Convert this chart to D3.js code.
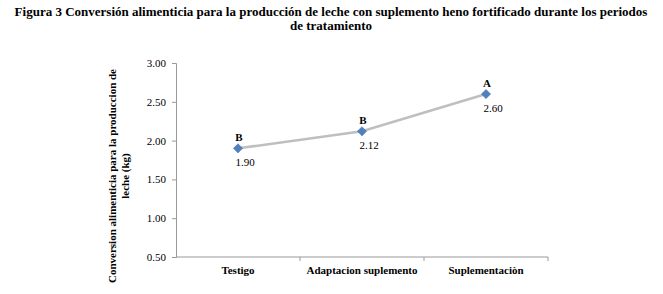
<!DOCTYPE html>
<html>
<head>
<meta charset="utf-8">
<script src="https://cdn.jsdelivr.net/npm/d3@7"></script>
<style>
  body { margin: 0; background: #fff; }
  svg text { font-family: "Liberation Serif", "Times New Roman", serif !important; }
</style>
</head>
<body>
<div id="chart"></div>
<script>
// Data
const categories = ["Testigo", "Adaptacion suplemento", "Suplementaciòn"];
const values = [1.90, 2.12, 2.60];
const letters = ["B", "B", "A"];
const yTicks = [0.50, 1.00, 1.50, 2.00, 2.50, 3.00];

const W = 663, H = 294;
const margin = { top: 63, right: 115, bottom: 37, left: 176 };
const width = W - margin.left - margin.right;
const height = H - margin.top - margin.bottom;

const root = d3.select("#chart").append("svg")
  .attr("width", W).attr("height", H);

// Title
root.append("text")
  .attr("x", 331).attr("y", 16)
  .attr("text-anchor", "middle")
  .style("font-weight", "bold").style("font-size", "13px")
  .text("Figura 3 Conversión alimenticia para la producción de leche con suplemento heno fortificado durante los periodos");
root.append("text")
  .attr("x", 331).attr("y", 30)
  .attr("text-anchor", "middle")
  .style("font-weight", "bold").style("font-size", "13px")
  .text("de tratamiento");

const svg = root.append("g")
  .attr("transform", `translate(${margin.left},${margin.top})`);

const x = d3.scaleBand().domain(categories).range([0, width]);
const y = d3.scaleLinear().domain([0.5, 3.0]).range([height, 0]);

// Y axis
const yAxis = svg.append("g")
  .call(d3.axisLeft(y).tickValues(yTicks).tickFormat(d3.format(".2f")).tickSize(4));
yAxis.select(".domain").attr("stroke", "#999");
yAxis.selectAll(".tick line").attr("stroke", "#999");
yAxis.selectAll("text")
  .attr("x", -10)
  .style("font-size", "11px").attr("fill", "#000");

// X axis: ticks at category boundaries
const xAxis = svg.append("g")
  .attr("transform", `translate(0,${height})`);
xAxis.append("line")
  .attr("x1", 0).attr("x2", width)
  .attr("stroke", "#999");
xAxis.selectAll(".bt")
  .data(categories.slice(1))
  .join("line")
  .attr("x1", d => x(d)).attr("x2", d => x(d))
  .attr("y1", 0).attr("y2", 4)
  .attr("stroke", "#999");
xAxis.append("line")
  .attr("x1", width).attr("x2", width)
  .attr("y1", 0).attr("y2", 4)
  .attr("stroke", "#999");
xAxis.selectAll(".cat")
  .data(categories)
  .join("text")
  .attr("x", d => x(d) + x.bandwidth() / 2)
  .attr("y", 17)
  .attr("text-anchor", "middle")
  .style("font-weight", "bold").style("font-size", "11px")
  .text(d => d);

// Y axis title
const yt = svg.append("text")
  .attr("transform", `translate(-60,${height / 2 + 16}) rotate(-90)`)
  .attr("text-anchor", "middle")
  .style("font-weight", "bold").style("font-size", "11px");
yt.append("tspan").attr("x", 0).attr("dy", 0)
  .text("Conversion alimenticia  para la produccion de");
yt.append("tspan").attr("x", 0).attr("dy", 13)
  .text("leche  (kg)");

// Line
const cx = (d, i) => x(categories[i]) + x.bandwidth() / 2;
svg.append("path")
  .datum(values)
  .attr("fill", "none")
  .attr("stroke", "#BFBFBF")
  .attr("stroke-width", 2.5)
  .attr("d", d3.line().x(cx).y(d => y(d)));

// Diamond markers
svg.selectAll(".pt")
  .data(values)
  .join("path")
  .attr("d", d3.symbol(d3.symbolDiamond2, 55))
  .attr("transform", (d, i) => `translate(${cx(d, i)},${y(d)})`)
  .attr("fill", "#4F81BD")
  .attr("stroke", "#4a78b0").attr("stroke-width", 0.5);

// Significance letters
svg.selectAll(".let")
  .data(values)
  .join("text")
  .attr("x", (d, i) => cx(d, i) + 1)
  .attr("y", d => y(d) - 7)
  .attr("text-anchor", "middle")
  .style("font-weight", "bold").style("font-size", "11px")
  .text((d, i) => letters[i]);

// Value labels
svg.selectAll(".val")
  .data(values)
  .join("text")
  .attr("x", (d, i) => cx(d, i) + 7)
  .attr("y", d => y(d) + 18)
  .attr("text-anchor", "middle")
  .style("font-size", "11px")
  .text(d => d3.format(".2f")(d));
</script>
</body>
</html>
